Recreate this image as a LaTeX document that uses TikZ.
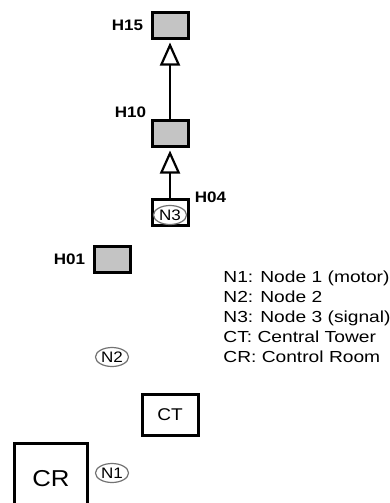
\documentclass[tikz,border=0pt]{standalone}
\usepackage{fontspec}
\setmainfont{Liberation Sans}[FakeStretch=1.12]
\newfontfamily\legfont{Liberation Sans}[FakeStretch=1.2]
\usetikzlibrary{arrows.meta,positioning,shapes.geometric}

\begin{document}
\begin{tikzpicture}[x=0.5pt,y=-0.5pt,
    hbox/.style={draw,line width=1.5pt,fill=black!23,minimum width=18pt,minimum height=13pt,inner sep=0pt},
    wbox/.style={draw,line width=1.5pt,fill=white,inner sep=0pt},
    nd/.style={draw=black!55,line width=0.6pt,ellipse,minimum width=16.5pt,minimum height=9.5pt,inner sep=0pt,font=\fontsize{7.6}{9}\selectfont},
    hlbl/.style={inner sep=0pt,font=\bfseries\fontsize{7.6}{9}\selectfont},
    uplink/.style={line width=1.2pt,-{Triangle[open,width=10pt,length=11.5pt,line width=1.1pt]},shorten >=1.5pt}]
    \useasboundingbox (0,0) rectangle (390,503);
    \clip (0,0) rectangle (390,503);

    % Hydrant boxes.
    \node[hbox] (h15) at (170,25) {};
    \node[hbox] (h10) at (170,133) {};
    \node[hbox] (h01) at (112,259) {};
    \node[hbox,fill=white] (n3) at (170,212) {};
    \node[nd] (n3node) at (170,215) {N3};

    \node[hlbl,left=3.5pt of h15] (h15lbl) {H15};
    \node[hlbl,anchor=south east] (h10lbl) at ([xshift=-2pt]h10.north west) {H10};
    \node[hlbl,anchor=west] (h04lbl) at ([xshift=2.5pt]n3.north east) {H04};
    \node[hlbl,left=3.5pt of h01] (h01lbl) {H01};

    % Links up the line.
    \draw[uplink] (n3) -- (h10);
    \draw[uplink] (h10) -- (h15);

    % Nodes, tower and room.
    \node[nd] (n2) at (112,357) {N2};
    \node[nd] (n1) at (112,473) {N1};
    \node[wbox,minimum width=28pt,minimum height=20.5pt,font=\fontsize{8.5}{10}\selectfont] (ct) at (170,415) {CT};
    \node[wbox,minimum width=36.5pt,minimum height=36pt,font=\fontsize{11.5}{13}\selectfont] (cr) at (51,479) {CR};

    % Legend.
    \node[anchor=north west,inner sep=0pt,align=left,font=\legfont\fontsize{8}{10}\selectfont] (legend) at (223,271)
        {N1: Node 1 (motor)\\N2: Node 2\\N3: Node 3 (signal)\\CT: Central Tower\\CR: Control Room};
\end{tikzpicture}
\end{document}
